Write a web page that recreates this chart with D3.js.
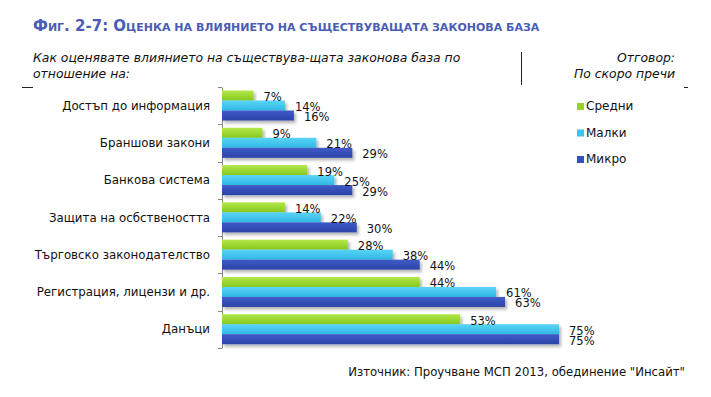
<!DOCTYPE html>
<html>
<head>
<meta charset="utf-8">
<script src="https://cdn.jsdelivr.net/npm/d3@7"></script>
<style>
	body { margin: 0; background: #fff; }
	svg { display: block; }
	.title { font-family: "DejaVu Sans", sans-serif; font-weight: bold; fill: #4a5cb5; }
	.head { font-family: "DejaVu Sans", sans-serif; font-style: italic; font-size: 12.4px; fill: #111; }
	.cat { font-family: "DejaVu Sans", sans-serif; font-size: 11.8px; fill: #111; }
	.val { font-family: "DejaVu Sans", sans-serif; font-size: 11.5px; fill: #111; }
	.leg { font-family: "DejaVu Sans", sans-serif; font-size: 12px; fill: #111; }
	.src { font-family: "DejaVu Sans", sans-serif; font-size: 11.7px; fill: #111; }
</style>
</head>
<body>
<script>
	//chart data
	var categories = ["Достъп до информация", "Браншови закони", "Банкова система", "Защита на осбствеността",
		"Търговско законодателство", "Регистрация, лицензи и др.", "Данъци"];
	var seriesNames = ["Средни", "Малки", "Микро"];
	var sredni = [7, 9, 19, 14, 28, 44, 53];
	var malki = [14, 21, 25, 22, 38, 61, 75];
	var mikro = [16, 29, 29, 30, 44, 63, 75];
	var seriesValues = [sredni, malki, mikro];

	var width = 711, height = 397;
	var svg = d3.select("body").append("svg")
		.attr("width", width)
		.attr("height", height);

	var defs = svg.append("defs");
	var grads = [["gGreen", "#b4e84a", "#86c81e"], ["gCyan", "#5ad4f6", "#2fb8e6"], ["gBlue", "#3f5cc8", "#2b43a8"]];
	grads.forEach(function(g){
		var lg = defs.append("linearGradient").attr("id", g[0])
			.attr("x1", 0).attr("y1", 0).attr("x2", 0).attr("y2", 1);
		lg.append("stop").attr("offset", "0%").attr("stop-color", g[1]);
		lg.append("stop").attr("offset", "100%").attr("stop-color", g[2]);
	});
	var shadow = defs.append("filter").attr("id", "shadow")
		.attr("x", "-5%").attr("y", "-30%").attr("width", "115%").attr("height", "190%");
	shadow.append("feDropShadow").attr("dx", 2).attr("dy", 2.5).attr("stdDeviation", 1.8)
		.attr("flood-color", "#000").attr("flood-opacity", 0.3);
	var fills = ["url(#gGreen)", "url(#gCyan)", "url(#gBlue)"];
	var legendColors = ["#95d32c", "#3cc3ee", "#3452bb"];

	//title
	var title = svg.append("text").attr("class", "title").attr("x", 33).attr("y", 31);
	title.append("tspan").attr("font-size", "15px").text("Ф");
	title.append("tspan").attr("font-size", "11px").text("ИГ");
	title.append("tspan").attr("font-size", "15px").text(". 2-7: О");
	title.append("tspan").attr("font-size", "11px").text("ЦЕНКА НА ВЛИЯНИЕТО НА СЪЩЕСТВУВАЩАТА ЗАКОНОВА БАЗА");

	//header
	svg.append("text").attr("class", "head").attr("x", 33).attr("y", 62)
		.text("Как оценявате влиянието на съществува-щата законова база по");
	svg.append("text").attr("class", "head").attr("x", 33).attr("y", 78)
		.text("отношение на:");
	svg.append("text").attr("class", "head").attr("x", 675).attr("y", 62)
		.attr("text-anchor", "end").text("Отговор:");
	svg.append("text").attr("class", "head").attr("x", 675).attr("y", 78)
		.attr("text-anchor", "end").text("По скоро пречи");
	svg.append("line").attr("x1", 521.5).attr("x2", 521.5).attr("y1", 52).attr("y2", 85)
		.attr("stroke", "#222").attr("stroke-width", 1);
	svg.append("line").attr("x1", 22).attr("x2", 33).attr("y1", 87.5).attr("y2", 87.5)
		.attr("stroke", "#222");
	svg.append("line").attr("x1", 684).attr("x2", 688).attr("y1", 87.5).attr("y2", 87.5)
		.attr("stroke", "#222");

	//scales
	var x = d3.scaleLinear().domain([0, 75]).range([222, 559]);
	var y = d3.scaleBand().domain(categories).range([87, 348]);
	var barH = 10;

	//axis
	var axis = svg.append("g").attr("transform", "translate(222,0)")
		.call(d3.axisLeft(y).tickSize(0).tickFormat(""));
	axis.select(".domain").attr("stroke", "#888");
	var boundaries = d3.range(categories.length + 1).map(function(i){ return 87 + i * y.step(); });
	svg.selectAll(".tickmark").data(boundaries).enter().append("line")
		.attr("x1", 218).attr("x2", 222)
		.attr("y1", function(d){ return Math.round(d) + 0.5; })
		.attr("y2", function(d){ return Math.round(d) + 0.5; })
		.attr("stroke", "#888");

	//category labels
	svg.selectAll(".cat").data(categories).enter().append("text")
		.attr("class", "cat")
		.attr("x", 210)
		.attr("y", function(d){ return y(d) + y.bandwidth() / 2 + 4; })
		.attr("text-anchor", "end")
		.text(function(d){ return d; });

	//bars and labels
	seriesValues.forEach(function(vals, s){
		svg.selectAll(".bar" + s).data(vals).enter().append("rect")
			.attr("class", "bar" + s)
			.attr("x", x(0))
			.attr("y", function(d, i){ return y(categories[i]) + 3.5 + s * barH; })
			.attr("width", function(d){ return x(d) - x(0); })
			.attr("height", barH)
			.attr("fill", fills[s])
			.attr("filter", "url(#shadow)");
	});
	seriesValues.forEach(function(vals, s){
		svg.selectAll(".val" + s).data(vals).enter().append("text")
			.attr("class", "val")
			.attr("x", function(d){ return x(d) + 10; })
			.attr("y", function(d, i){ return y(categories[i]) + 3.5 + s * barH + 10.5; })
			.text(function(d){ return d + "%"; });
	});

	//legend
	var legend = svg.selectAll(".legItem").data(seriesNames).enter().append("g")
		.attr("transform", function(d, i){ return "translate(577," + (110 + i * 26.5) + ")"; });
	legend.append("rect").attr("x", 0).attr("y", -7).attr("width", 7).attr("height", 7)
		.attr("fill", function(d, i){ return legendColors[i]; });
	legend.append("text").attr("class", "leg").attr("x", 9).attr("y", 0)
		.text(function(d){ return d; });

	//source
	svg.append("text").attr("class", "src").attr("x", 685).attr("y", 376)
		.attr("text-anchor", "end")
		.text("Източник: Проучване МСП 2013, обединение \"Инсайт\"");
</script>
</body>
</html>
